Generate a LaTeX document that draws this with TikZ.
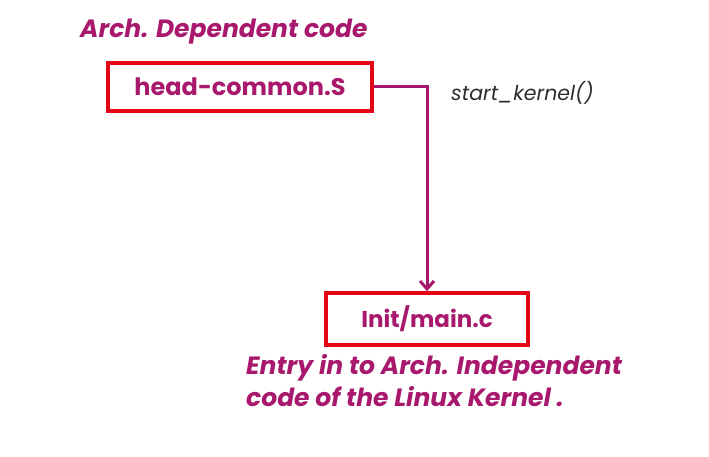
\documentclass[tikz,border=0pt]{standalone}
\usepackage{fontspec}
\setmainfont{Poppins}
\usetikzlibrary{arrows.meta,positioning}
\definecolor{archpurple}{RGB}{168,24,108}
\definecolor{boxred}{RGB}{228,6,20}
\definecolor{callgray}{RGB}{45,45,45}
\begin{document}
\begin{tikzpicture}[x=1pt,y=-1pt]
	\tikzstyle{filebox}=[draw=boxred,line width=3.5pt,inner sep=0pt,text=archpurple,font=\bfseries\fontsize{24}{28}\selectfont]
	\tikzstyle{note}=[text=archpurple,inner sep=0pt,font=\bfseries\itshape\fontsize{25}{32}\selectfont]
	\tikzstyle{conn}=[draw=archpurple,line width=3pt,-{Straight Barb[length=8pt,width=14pt,line width=3pt]}]
	\useasboundingbox (0,0) rectangle (709,457);
	\node[filebox,minimum width=264pt,minimum height=48pt] (head) at (240,87) {head-common.S};
	\node[note,anchor=west] (arch) at (80,32) {Arch. Dependent code};
	\node[filebox,minimum width=202pt,minimum height=52pt,font=\bfseries\fontsize{23}{28}\selectfont] (initc) at (427,319) {Init/main.c};
	\node[text=callgray,inner sep=0pt,font=\itshape\fontsize{20.5}{24}\selectfont,anchor=west] (startk) at (451,93) {start\_kernel()};
	\node[note,anchor=north west,align=left] (entry) at (246,354) {Entry in to Arch. Independent\\code of the Linux Kernel .};
	\draw[conn] (head.east) -| (initc.north);
\end{tikzpicture}
\end{document}
